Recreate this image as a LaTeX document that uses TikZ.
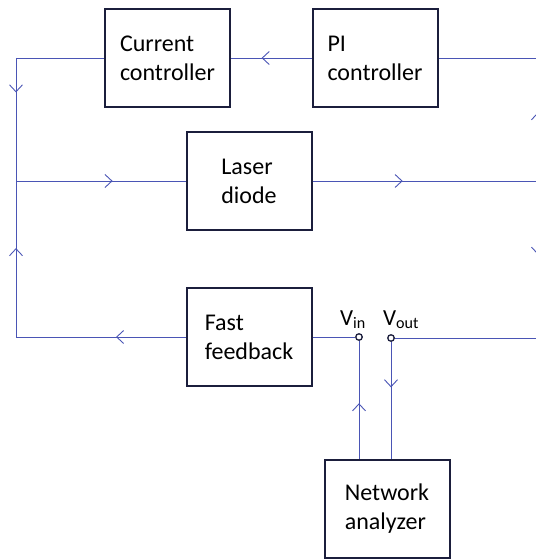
\documentclass[tikz,border=0pt]{standalone}
\usepackage{fontspec}
\setmainfont{Carlito}
\usetikzlibrary{arrows.meta,decorations.markings}
\definecolor{boxline}{HTML}{1B1E3C}
\definecolor{wireblue}{HTML}{4A55B5}

\begin{document}
\begin{tikzpicture}[x=1pt,y=-1pt]
  \tikzset{block/.style={draw=boxline, line width=2pt, minimum width=125pt, minimum height=98pt,
                         align=left, inner sep=0pt, font=\fontsize{24}{29}\selectfont},
           wire/.style={color=wireblue, line width=0.9pt},
           midarrow/.style={postaction={decorate},
                            decoration={markings, mark=at position #1 with {\arrow{Straight Barb[length=7pt,width=13pt]}}}},
           terminal/.style={circle, draw=boxline, fill=white, line width=1.3pt, inner sep=0pt, minimum size=6.5pt},
           vlabel/.style={anchor=base, font=\fontsize{23}{28}\selectfont}}
  \useasboundingbox (0,0) rectangle (535,559);
  \node[block] (cur) at (167.5,58) {Current\\controller};
  \node[block] (pi)  at (375,58)   {PI\\controller};
  \node[block] (ld)  at (249,181)  {Laser\\diode};
  \node[block] (ff)  at (249,337)  {Fast\\feedback};
  \node[block] (na)  at (387,508.5) {Network\\analyzer};
  \node[terminal] (vin)  at (359,337) {};
  \node[terminal] (vout) at (391,338) {};
  \node[vlabel] (vinlab)  at (353,325)   {V\textsubscript{in}};
  \node[vlabel] (voutlab) at (401,325) {V\textsubscript{out}};
  \coordinate (lt) at (16,58);
  \coordinate (lm) at (16,181);
  \coordinate (lb) at (16,337);
  \coordinate (rt) at (538,58);
  \coordinate (rm) at (538,181);
  \coordinate (rb) at (538,338);
  % left loop
  \draw[wire] (cur.west) -- (lt);
  \draw[wire, midarrow=0.28] (lt) -- (lm);
  \draw[wire, midarrow=0.41] (ff.west) -- (lb);
  \draw[wire, midarrow=0.57] (lb) -- (lm);
  \draw[wire, midarrow=0.57] (lm) -- (ld.west);
  \draw[wire, midarrow=0.62] (pi.west) -- (cur.east);
  % right side
  \draw[wire, midarrow=0.40] (ld.east) -- (rm);
  \draw[wire, midarrow=0.56] (rm) -- (rt);
  \draw[wire] (rt) -- (pi.east);
  \draw[wire, midarrow=0.47] (rm) -- (rb);
  \draw[wire] (rb) -- (vout);
  % network analyzer
  \draw[wire] (ff.east) -- (vin);
  \draw[wire, midarrow=0.47] (vin |- na.north) -- (vin);
  \draw[wire, midarrow=0.39] (vout) -- (vout |- na.north);
\end{tikzpicture}
\end{document}
